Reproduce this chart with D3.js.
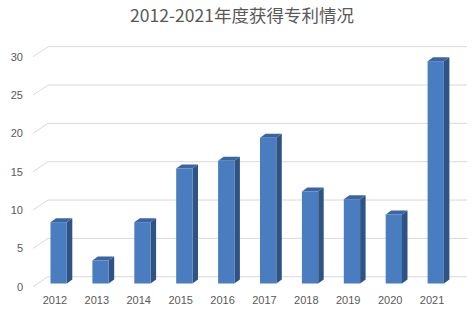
<!DOCTYPE html>
<html><head><meta charset="utf-8">
<script src="https://cdn.jsdelivr.net/npm/d3@7"></script>
<style>body{margin:0;background:#fff;} svg{display:block;}</style>
</head><body>
<svg id="c" width="474" height="312"></svg>
<script>
const title = "2012-2021年度获得专利情况";
const categories = ["2012","2013","2014","2015","2016","2017","2018","2019","2020","2021"];
const values = [8,3,8,15,16,19,12,11,9,29];
const yTicks = [0,5,10,15,20,25,30];

const svg = d3.select("#c");
const W = 474, H = 312;
const depthX = 15, depthY = 10;      // wall depth
const barDX = 5.5, barDY = 4;        // bar depth
const x = d3.scaleBand().domain(categories).range([33, 452]).paddingInner(0).paddingOuter(0);
const yFront = d3.scaleLinear().domain([0,30]).range([286.7, 56.7]);
const yBack = d3.scaleLinear().domain([0,30]).range([276.7, 46.7]);
const yBar = d3.scaleLinear().domain([0,30]).range([283.5, 53.5]);
const fontLat = "'Liberation Sans', Arial, sans-serif";

svg.append("text").attr("x", 242).attr("y", 22).attr("text-anchor","middle")
  .attr("font-family","'Noto Sans CJK SC', 'Noto Sans', sans-serif").attr("font-size",17.5)
  .attr("fill","#595959").text(title);

// gridlines
const g = svg.append("g");
yTicks.forEach(t => {
  g.append("line").attr("x1",33).attr("y1",yFront(t)).attr("x2",33+depthX).attr("y2",yBack(t))
    .attr("stroke","#d9d9d9").attr("stroke-width",1);
  g.append("line").attr("x1",33+depthX).attr("y1",yBack(t)).attr("x2",467).attr("y2",yBack(t))
    .attr("stroke","#d9d9d9").attr("stroke-width",1);
});

// y labels
svg.append("g").selectAll("text").data(yTicks).join("text")
  .attr("x", 23).attr("y", d => yFront(d)).attr("dy","0.35em").attr("text-anchor","end")
  .attr("font-family", fontLat).attr("font-size", 11).attr("fill","#595959").text(d => d);

// bars
const bw = 16.3;
const bars = svg.append("g").selectAll("g").data(categories.map((c,i)=>({c, v: values[i]}))).join("g");
bars.each(function(d){
  const gg = d3.select(this);
  const x0 = x(d.c) + 17.5, x1 = x0 + bw;
  const yt = yBar(d.v), yb = yBar(0);
  // side
  gg.append("path").attr("d", `M${x1},${yt}L${x1+barDX},${yt-barDY}L${x1+barDX},${yb-barDY}L${x1},${yb}Z`)
    .attr("fill","#2f5384");
  // top
  gg.append("path").attr("d", `M${x0},${yt}L${x0+barDX},${yt-barDY}L${x1+barDX},${yt-barDY}L${x1},${yt}Z`)
    .attr("fill","#3b65a2");
  // front
  gg.append("rect").attr("x", x0).attr("y", yt).attr("width", bw).attr("height", yb - yt)
    .attr("fill","#4a7dbf");
});

// x labels
svg.append("g").selectAll("text").data(categories).join("text")
  .attr("x", d => x(d) + x.bandwidth()/2 + 1).attr("y", 300.5).attr("dy","0.35em")
  .attr("text-anchor","middle").attr("font-family", fontLat).attr("font-size", 11)
  .attr("fill","#595959").text(d => d);
</script>
</body></html>
